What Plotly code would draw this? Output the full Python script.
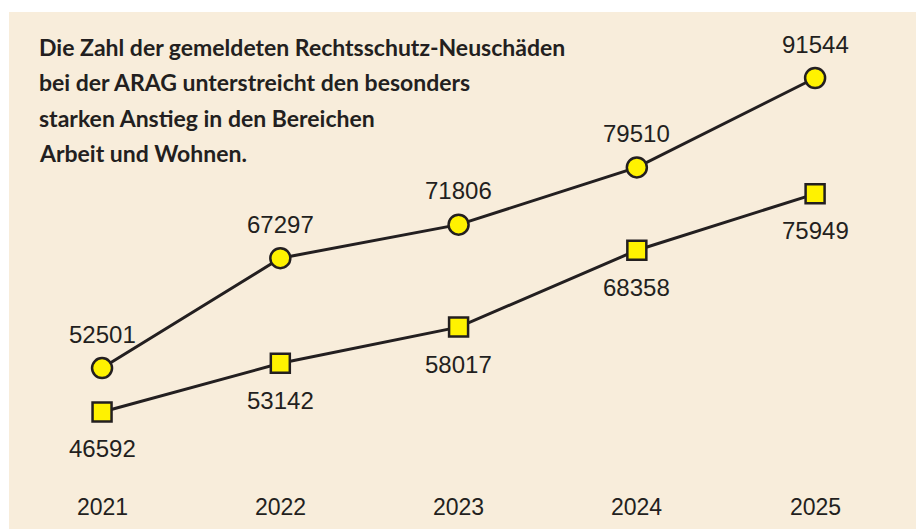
import plotly.graph_objects as go

years = ["2021", "2022", "2023", "2024", "2025"]
circle_values = [52501, 67297, 71806, 79510, 91544]
square_values = [46592, 53142, 58017, 68358, 75949]
title_lines = [
    "Die Zahl der gemeldeten Rechtsschutz-Neuschäden",
    "bei der ARAG unterstreicht den besonders",
    "starken Anstieg in den Bereichen",
    "Arbeit und Wohnen.",
]

BG = "#f8eddb"
INK = "#231f20"
YEL = "#fff200"
FONT = "Liberation Sans, Arial, sans-serif"

fig = go.Figure()
fig.add_trace(go.Scatter(
    x=years, y=circle_values, mode="lines+markers",
    line=dict(color=INK, width=3),
    marker=dict(symbol="circle", size=20, color=YEL, line=dict(color=INK, width=2.5)),
    hoverinfo="skip", showlegend=False,
))
fig.add_trace(go.Scatter(
    x=years, y=square_values, mode="lines+markers",
    line=dict(color=INK, width=3),
    marker=dict(symbol="square", size=19, color=YEL, line=dict(color=INK, width=2.5)),
    hoverinfo="skip", showlegend=False,
))

ann = []
for i, v in enumerate(circle_values):
    ann.append(dict(x=i, y=v, xref="x", yref="y", text=str(v), showarrow=False,
                    yshift=34, font=dict(family=FONT, size=24, color=INK)))
for i, v in enumerate(square_values):
    ann.append(dict(x=i, y=v, xref="x", yref="y", text=str(v), showarrow=False,
                    yshift=-37, font=dict(family=FONT, size=24, color=INK)))
for i, yr in enumerate(years):
    ann.append(dict(x=i, y=0, xref="x", yref="paper", text=yr, showarrow=False,
                    yanchor="middle", yshift=22, font=dict(family=FONT, size=23, color=INK)))
for i, line in enumerate(title_lines):
    ann.append(dict(x=0.031, y=1, xref="paper", yref="paper", text="<b>" + line + "</b>",
                    showarrow=False, xanchor="left", yanchor="middle",
                    yshift=-(35 + 35.3 * i),
                    font=dict(family="Lato, sans-serif", size=23, color=INK)))

fig.update_layout(
    width=916, height=529,
    margin=dict(l=9, r=0, t=12, b=0),
    paper_bgcolor="white", plot_bgcolor=BG,
    xaxis=dict(type="category", range=[-0.522, 4.566], visible=False, fixedrange=True),
    yaxis=dict(range=[30844, 100427], visible=False, fixedrange=True),
    annotations=ann,
)
fig.write_html(
    "out.html",
    config={"displayModeBar": False},
    post_script="document.body.style.margin='0';document.body.style.overflow='hidden';",
)
